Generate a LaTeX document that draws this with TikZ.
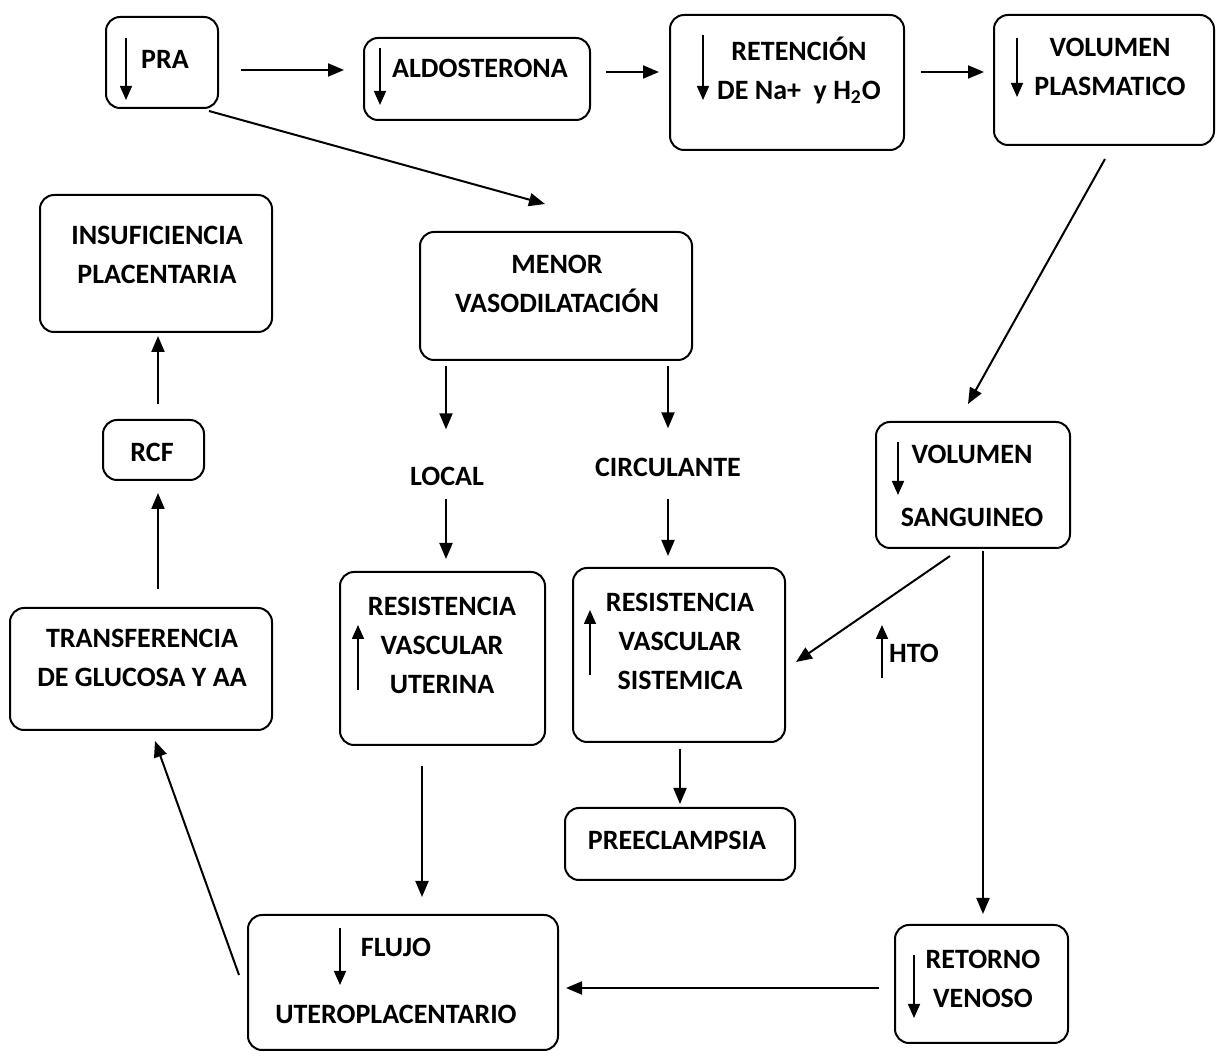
\documentclass[tikz,border=0pt]{standalone}
\usepackage{fontspec}
\setmainfont{Carlito}
\usetikzlibrary{calc,arrows.meta}

\tikzset{
  caja/.style={draw, line width=1pt, rounded corners=7pt, inner sep=0pt},
  texto/.style={inner sep=0pt, align=center, font=\bfseries\fontsize{14}{19.5}\selectfont},
  conn/.style={line width=1pt, -{Triangle[length=8pt,width=6.5pt]}},
  flecha/.style={line width=0.8pt, -{Triangle[length=7pt,width=6pt]}}
}

\begin{document}
\begin{tikzpicture}[x=0.5pt,y=-0.5pt]
	\useasboundingbox (0,0) rectangle (1228,1063);

	%boxes
	\node[caja, minimum width=56pt,   minimum height=45.5pt] (pra)    at (162,62.5)  {};
	\node[caja, minimum width=113pt,  minimum height=41pt]   (aldo)   at (477,79)    {};
	\node[caja, minimum width=117pt,  minimum height=67.5pt] (ret)    at (787,82.5)  {};
	\node[caja, minimum width=110pt,  minimum height=65pt]   (volp)   at (1104,80)   {};
	\node[caja, minimum width=116pt,  minimum height=68.5pt] (insuf)  at (156,263.5) {};
	\node[caja, minimum width=136pt,  minimum height=64pt]   (menor)  at (556,296)   {};
	\node[caja, minimum width=50.5pt, minimum height=30pt]   (rcf)    at (153.5,450) {};
	\node[caja, minimum width=97pt,   minimum height=63pt]   (vols)   at (973,485)   {};
	\node[caja, minimum width=131pt,  minimum height=61pt]   (transf) at (141,669)   {};
	\node[caja, minimum width=102.5pt,minimum height=86.5pt] (rvu)    at (442.5,658.5) {};
	\node[caja, minimum width=106pt,  minimum height=87pt]   (rvs)    at (679,655)   {};
	\node[caja, minimum width=115pt,  minimum height=36pt]   (pre)    at (680,844)   {};
	\node[caja, minimum width=155pt,  minimum height=67.5pt] (flujo)  at (403,982.5) {};
	\node[caja, minimum width=86.5pt, minimum height=59pt]   (retv)   at (981.5,984) {};

	%texts
	\node[texto] (tpra)    at (165,59)   {PRA};
	\node[texto] (taldo)   at (480,68)   {ALDOSTERONA};
	\node[texto] (tret)    at (799,70)   {RETENCIÓN\\DE Na+~ y H\textsubscript{2}O};
	\node[texto] (tvolp)   at (1110,67)  {VOLUMEN\\PLASMATICO};
	\node[texto] (tinsuf)  at (157,255)  {INSUFICIENCIA\\PLACENTARIA};
	\node[texto] (tmenor)  at (557,284)  {MENOR\\VASODILATACIÓN};
	\node[texto] (trcf)    at (152,452)  {RCF};
	\node[texto] (local)   at (447,476)  {LOCAL};
	\node[texto] (circ)    at (668,467)  {CIRCULANTE};
	\node[texto] (tvols)   at (972,486)  {VOLUMEN\\[12pt]SANGUINEO};
	\node[texto] (ttransf) at (142,658)  {TRANSFERENCIA\\DE GLUCOSA Y AA};
	\node[texto] (trvu)    at (442,645)  {RESISTENCIA\\VASCULAR\\UTERINA};
	\node[texto] (trvs)    at (680,641)  {RESISTENCIA\\VASCULAR\\SISTEMICA};
	\node[texto] (hto)     at (914,653)  {HTO};
	\node[texto] (tpre)    at (677,840)  {PREECLAMPSIA};
	\node[texto] (tflujo)  at (396,981)  {FLUJO\\[14pt]UTEROPLACENTARIO};
	\node[texto] (tretv)   at (983,979)  {RETORNO\\VENOSO};

	%small arrows
	\draw[flecha] (126,38)--(126,100);	%pra
	\draw[flecha] (380,48)--(380,105);	%aldosterona
	\draw[flecha] (703,35)--(703,100);	%retencion
	\draw[flecha] (1017,38)--(1017,97);	%volumen plasmatico
	\draw[flecha] (898,442)--(898,495);	%volumen sanguineo
	\draw[flecha] (358,690)--(358,625);	%rv uterina
	\draw[flecha] (590,675)--(590,610);	%rv sistemica
	\draw[flecha] (882,678)--(882,625);	%hto
	\draw[flecha] (340,928)--(340,985);	%flujo
	\draw[flecha] (914,955)--(914,1018);	%retorno

	%connectors
	\draw[conn] ($(pra.east)+(22,7.5)$) -- ($(aldo.west)+(-19,-9)$);		%pra--aldo
	\draw[conn] ($(aldo.east)+(15,-7)$) -- ($(ret.west)+(-10,-10.5)$);	%aldo--ret
	\draw[conn] ($(ret.east)+(16,-10.5)$) -- ($(volp.west)+(-9,-8)$);	%ret--volp
	\draw[conn] ($(pra.south east)+(-10,2)$) -- ($(menor.north)+(-11,-27)$);	%pra--menor
	\draw[conn] ($(volp.south)+(1,13)$) -- ($(vols.north)+(-5,-17)$);	%volp--vols
	\draw[conn] ($(menor.south)+(-110,5)$) -- ($(local.north)+(-1,-37)$);	%menor--local
	\draw[conn] ($(menor.south)+(112,5)$) -- ($(circ.north)+(0,-29)$);	%menor--circ
	\draw[conn] ($(local.south)+(-1,13)$) -- ($(rvu.north)+(3.5,-12)$);	%local--rvu
	\draw[conn] ($(circ.south)+(0,22)$) -- ($(rvs.north)+(-11,-11)$);	%circ--rvs
	\draw[conn] ($(vols.south)+(-23,7)$) -- ($(rvs.east)+(10,7)$);		%vols--rvs
	\draw[conn] ($(vols.south)+(10,2)$) -- ($(retv.north)+(1.5,-10)$);	%vols--retv
	\draw[conn] ($(rvs.south)+(1,6)$) -- ($(pre.north)+(0,-3)$);		%rvs--pre
	\draw[conn] ($(rvu.south)+(-20.5,20)$) -- ($(flujo.north)+(19,-17)$);	%rvu--flujo
	\draw[conn] ($(retv.west)+(-15,4)$) -- ($(flujo.east)+(7,5.5)$);		%retv--flujo
	\draw[conn] ($(flujo.west)+(-8,-7.5)$) -- ($(transf.south)+(14,10)$);	%flujo--transf
	\draw[conn] ($(transf.north)+(17,-18)$) -- ($(rcf.south)+(4.5,12)$);	%transf--rcf
	\draw[conn] ($(rcf.north)+(4.5,-15)$) -- ($(insuf.south)+(2,3)$);	%rcf--insuf

\end{tikzpicture}
\end{document}
